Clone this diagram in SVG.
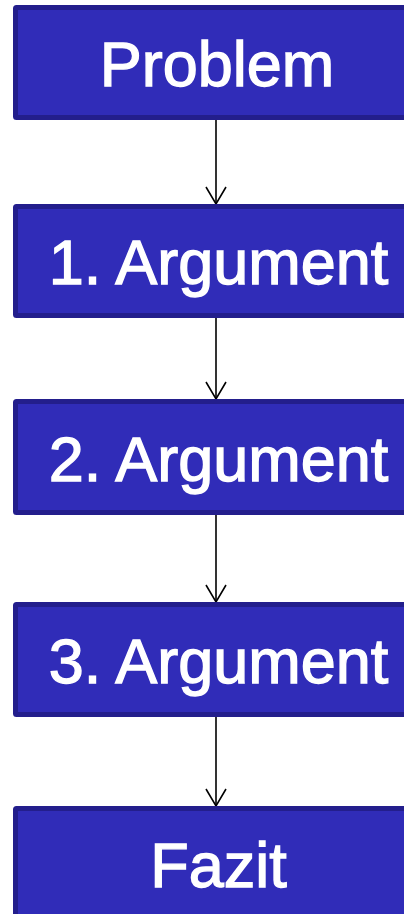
<svg xmlns="http://www.w3.org/2000/svg" width="404" height="914" viewBox="0 0 404 914">
<style>
.box{fill:#302cb8;stroke:#231e8c;stroke-width:5}
.lbl{fill:#ffffff;stroke:#ffffff;stroke-width:1.3;font-family:"Liberation Sans",Arial,sans-serif;font-size:63px;text-anchor:middle}
.edge{stroke:#000;stroke-width:1.6;fill:none}
</style>
<rect width="404" height="914" fill="#ffffff"/>
<g id="connectors">
<line class="edge" x1="216" y1="120" x2="216" y2="204"/>
<polyline class="edge" points="206,187 216,204 226,187"/>
<line class="edge" x1="216" y1="318" x2="216" y2="399"/>
<polyline class="edge" points="206,382 216,399 226,382"/>
<line class="edge" x1="216" y1="515" x2="216" y2="602"/>
<polyline class="edge" points="206,585 216,602 226,585"/>
<line class="edge" x1="216" y1="717" x2="216" y2="806"/>
<polyline class="edge" points="206,789 216,806 226,789"/>
</g>
<g id="problem">
<rect class="box" x="15.5" y="7.5" width="420" height="110" rx="1"/>
<text class="lbl" x="217" y="86">Problem</text>
</g>
<g id="arg1">
<rect class="box" x="15.5" y="206.5" width="420" height="109" rx="1"/>
<text class="lbl" x="218.5" y="284">1. Argument</text>
</g>
<g id="arg2">
<rect class="box" x="15.5" y="401.5" width="420" height="111" rx="1"/>
<text class="lbl" x="218.5" y="480.5">2. Argument</text>
</g>
<g id="arg3">
<rect class="box" x="15.5" y="604.5" width="420" height="110" rx="1"/>
<text class="lbl" x="218.5" y="683">3. Argument</text>
</g>
<g id="fazit">
<rect class="box" x="15.5" y="808.5" width="420" height="120" rx="1"/>
<text class="lbl" x="218.5" y="887">Fazit</text>
</g>
</svg>
